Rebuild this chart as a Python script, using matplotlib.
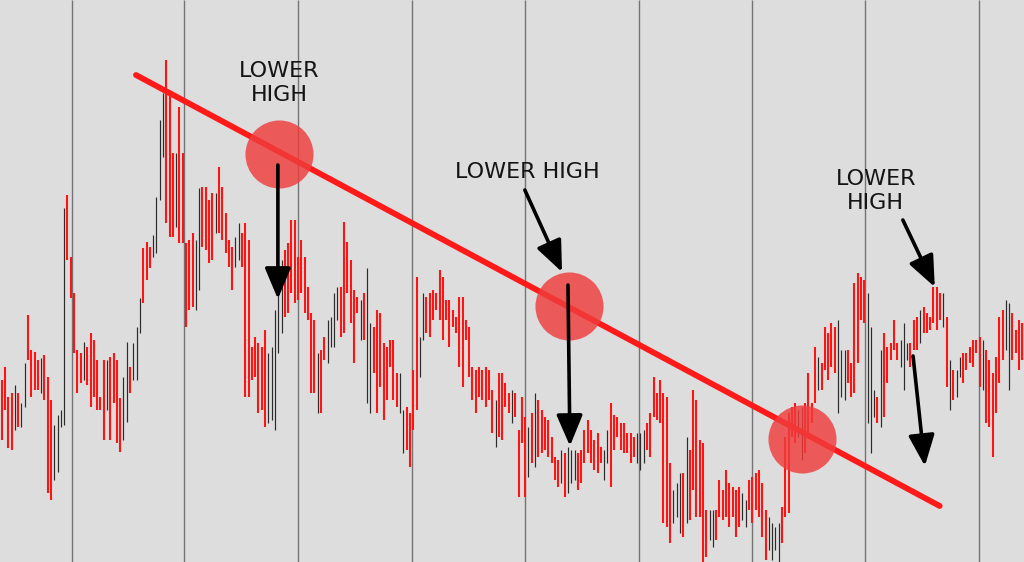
import numpy as np
import matplotlib

matplotlib.use("Agg")
import matplotlib.pyplot as plt

# candle highs / lows (screen rows, 0 = top edge),
# one entry per candle from left to right; colour r = bearish, k = bullish
high_rows = [
    380, 367, 397, 393, 385, 393, 403, 363, 315, 350, 352, 360, 358, 355, 377, 400,
    425, 415, 410, 208, 195, 257, 293, 350, 353, 342, 347, 333, 340, 360, 397, 360,
    360, 357, 353, 360, 398, 377, 342, 367, 343, 327, 298, 248, 242, 247, 235, 197,
    120, 93, 60, 93,
    153, 153, 107, 153, 243, 240, 233, 240, 188, 187, 187, 200, 193, 193, 167, 187,
    213, 240, 247, 237, 223, 233, 223, 240, 347, 337, 343, 347, 330, 353, 347, 310,
    287, 260, 250, 243, 220, 220, 257, 240, 257, 287, 313, 320, 353, 350, 337, 320,
    317, 293, 287,
    287, 222, 242, 260, 290, 297, 300, 293, 268, 323, 327, 310, 313, 343, 347, 340,
    340, 373, 373, 410, 407, 413, 370, 277, 337, 293, 297, 293, 290, 293, 270, 277,
    300, 300, 310, 317, 297, 297, 320, 327, 367, 370, 367, 370, 367, 370, 390, 400,
    373, 373, 383, 393,
    390, 393, 430, 397, 417, 427, 413, 393, 400, 410, 417, 420, 437, 457, 460, 450,
    453, 447, 450, 450, 453, 450, 430, 420, 430, 440, 433, 447, 450, 430, 403, 415,
    417, 423, 423, 433, 433, 437, 433, 433, 430, 423, 413, 377, 393, 380, 393, 397,
    463, 490, 483, 473,
    473, 437, 450, 390, 400, 440, 443, 510, 510, 510, 510, 480, 490, 470, 483, 487,
    490, 487, 493, 500, 480, 477, 473, 470, 483, 510, 517, 523, 527, 523, 507, 437,
    413, 407, 403, 410, 407, 403, 373, 403, 347, 357, 363, 327, 333, 323, 327, 320,
    350, 350, 350, 363,
    283, 273, 277, 280, 293, 327, 390, 397, 350, 333, 347, 343, 320, 343, 340, 323,
    343, 343, 320, 317, 310, 307, 313, 317, 287, 287, 293, 293, 317, 360, 370, 370,
    357, 353, 353, 347, 340, 340, 337, 340, 350, 360, 373, 357, 317, 310, 300, 303,
    313, 330, 320, 323,
]
low_rows = [
    440, 410, 448, 450, 430, 427, 427, 407, 360, 397, 390, 390, 393, 400, 493, 500,
    480, 472, 427, 425, 260, 298, 353, 393, 383, 380, 385, 407, 397, 410, 410, 440,
    410, 440, 403, 443, 452, 440, 422, 393, 380, 380, 333, 303, 280, 268, 257, 253,
    200, 157, 223, 237,
    237, 227, 243, 243, 327, 310, 307, 310, 290, 247, 250, 263, 260, 233, 233, 240,
    253, 267, 290, 267, 260, 267, 397, 397, 380, 377, 413, 410, 427, 423, 420, 430,
    353, 333, 317, 313, 293, 303, 300, 293, 313, 320, 393, 393, 413, 413, 360, 363,
    347, 347, 320,
    337, 333, 293, 323, 363, 313, 340, 340, 403, 413, 373, 413, 387, 420, 400, 367,
    400, 407, 413, 453, 450, 467, 430, 410, 377, 340, 333, 337, 320, 310, 320, 340,
    320, 347, 327, 333, 367, 387, 340, 377, 400, 413, 397, 400, 407, 400, 433, 447,
    437, 440, 407, 413,
    423, 417, 497, 443, 497, 477, 463, 467, 457, 453, 450, 457, 463, 480, 487, 483,
    497, 493, 483, 480, 490, 483, 463, 453, 463, 470, 473, 463, 480, 463, 487, 450,
    437, 450, 453, 453, 463, 457, 463, 470, 463, 450, 457, 417, 420, 423, 523, 527,
    543, 523, 517, 533,
    537, 523, 520, 490, 517, 517, 562, 557, 540, 547, 540, 517, 520, 517, 527, 517,
    537, 527, 520, 527, 510, 523, 510, 517, 537, 560, 550, 560, 550, 562, 543, 517,
    513, 437, 443, 437, 460, 453, 433, 423, 403, 390, 390, 370, 380, 367, 373, 413,
    397, 400, 383, 397,
    393, 363, 320, 323, 423, 453, 417, 423, 427, 417, 383, 360, 350, 360, 367, 390,
    360, 367, 350, 350, 343, 333, 333, 330, 323, 330, 320, 327, 387, 410, 400, 397,
    377, 383, 370, 363, 367, 353, 387, 390, 423, 427, 457, 413, 383, 360, 350, 390,
    360, 353, 370, 360,
]
candle_colours = (
    "rrrrkrkkrrrrkrrrkkkkrrrrrkrrrrrrkrrrrkkrkkkrrrkkkkrr"
    "rkrrrrrkkrrrrkrrrrrkkrrrrrrrrkkkkkrrrrrrrrrrkrrkk"
    "kkrrrrrrkrkkrrrrrrrrkkrrrrkkrrrrrrrrrrrrrrrrrrrrrkrr"
    "rrkrrrrkrkrrrrrrrkrkkkrrrrrrrrkkrrrrrrrrkkkrrrrrrrrk"
    "kkrkrrrrrrkkrrrrrrrrkkrrrrrrkkkkrrrrrkkrrrrkrrrrrk"
    "kkrrrrrrkkkrkrrrrrkkkrrrkrrrrrrkrkrkkrrrrrrkrrrrrrkk"
)

# annotation anchors in chart units (candle index, price)
trend_x = [40.8, 284.9]
trend_y = [487, 56]
circle_x = [84.2, 172.3, 243.0]
circle_y = [408, 256, 123]
grid_x = [21.3, 55.5, 89.9, 124.5, 158.9, 193.5, 228.0, 262.2, 296.8]

highs = 562 - np.array(high_rows)
lows = 562 - np.array(low_rows)
n = len(highs)
idx = np.arange(n)
cols = np.array(["#ff1414" if c == "r" else "#2b2b2b" for c in candle_colours[:n]])
widths = np.array([1.5 if c == "r" else 0.85 for c in candle_colours[:n]])

fig = plt.figure(figsize=(10.24, 5.62), dpi=100)
fig.patch.set_facecolor("#dddddd")
ax = fig.add_axes([0, 0, 1, 1])
ax.set_facecolor("#dddddd")
ax.set_xlim(-0.5, n - 0.5)
ax.set_ylim(0, 562)
ax.axis("off")

ax.vlines(grid_x, 0, 562, colors="#747474", linewidth=1.0, zorder=1)
ax.vlines(idx, lows, highs, colors=cols, linewidths=widths, zorder=2)

ax.plot(trend_x, trend_y, color="#ff1a1a", linewidth=4.2,
        solid_capstyle="round", zorder=3)
ax.scatter(circle_x, circle_y, s=2400, color="#f03c3c", alpha=0.82,
           linewidths=0, zorder=4)

arrow_kw = dict(arrowstyle="-|>,head_length=0.95,head_width=0.4",
                color="black", linewidth=2.6, mutation_scale=20,
                shrinkA=0, shrinkB=0)


def arrow(x0, y0, x1, y1):
    ax.annotate("", xy=(x1, y1), xytext=(x0, y0),
                arrowprops=arrow_kw, zorder=5)


text_kw = dict(ha="center", va="center", fontsize=16, color="#141414",
               linespacing=1.25, zorder=5)
ax.text(84.2, 479, "LOWER\nHIGH", **text_kw)
ax.text(159.8, 390, "LOWER HIGH", **text_kw)
ax.text(265.5, 371, "LOWER\nHIGH", **text_kw)

arrow(83.9, 397, 83.9, 263)
arrow(158.9, 372, 170.2, 290)
arrow(172.0, 277, 172.6, 116)
arrow(273.7, 342, 283.4, 275)
arrow(276.8, 206, 280.4, 96)

fig.savefig("out.png", dpi=100, facecolor=fig.get_facecolor())
plt.close(fig)
